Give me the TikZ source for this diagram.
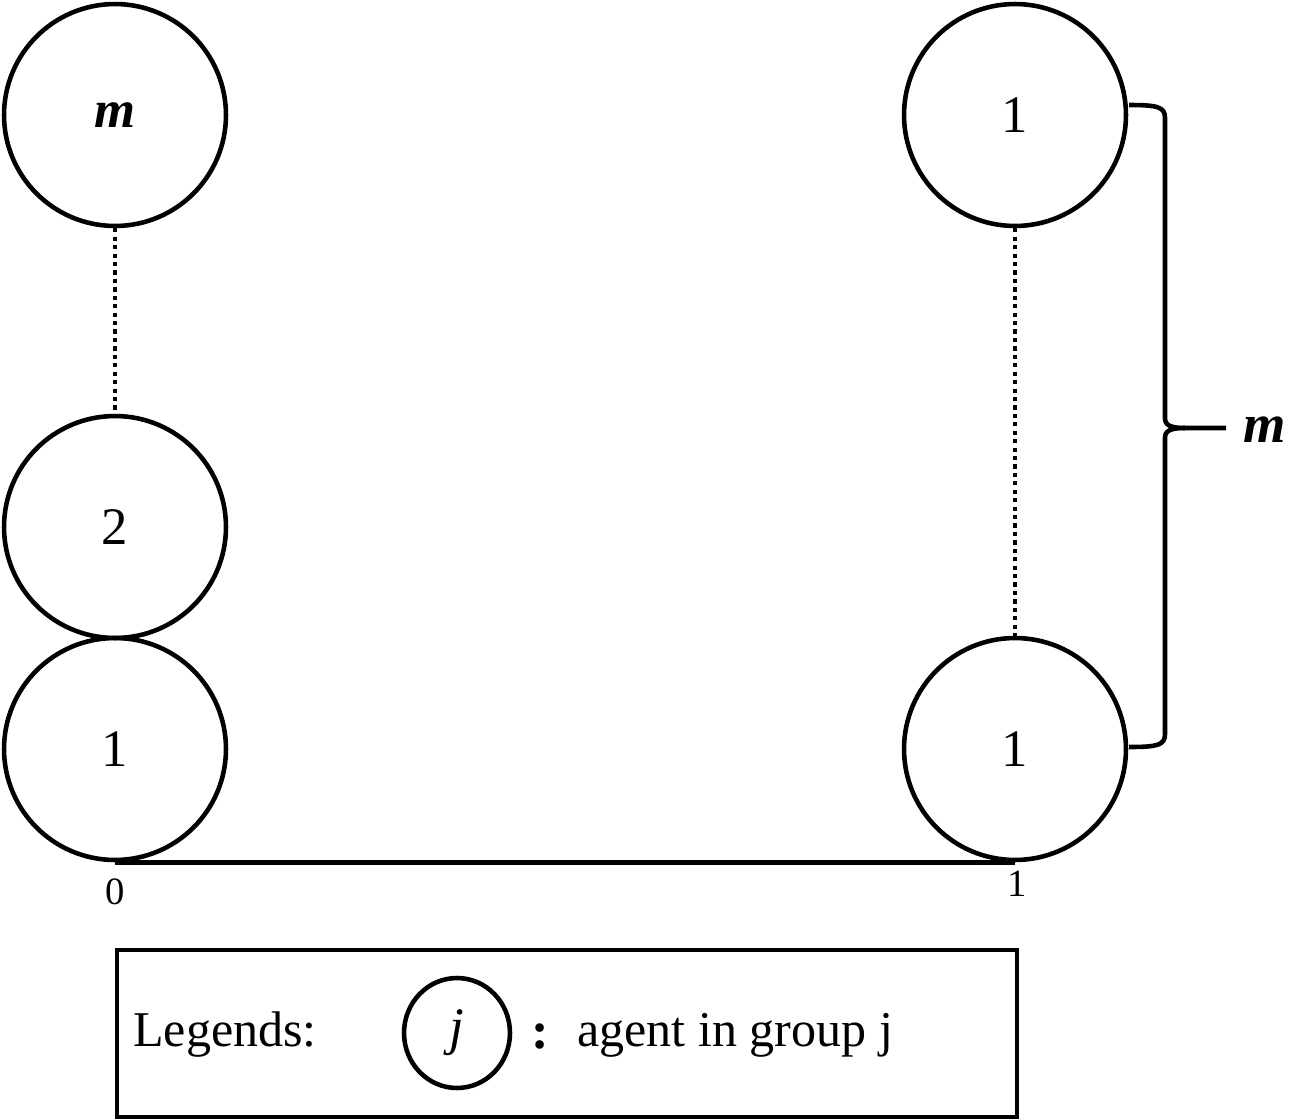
\documentclass[tikz,border=0pt]{standalone}
\usepackage{fontspec}
\setmainfont{Liberation Serif}
\usetikzlibrary{shapes.geometric}
\begin{document}
\begin{tikzpicture}[x=0.02cm,y=-0.02cm,
  agent/.style={draw,circle,line width=2.6pt,minimum size=4.44cm,inner sep=0pt,font=\fontsize{30}{36}\selectfont},
  thick line/.style={line width=2.6pt},
  dotline/.style={line width=2.6pt,dash pattern=on 2.4pt off 2.4pt},
  lbl/.style={font=\fontsize{22}{26}\selectfont,inner sep=0pt}]
\useasboundingbox (0,0) rectangle (1303,1120);
% left column
\node[agent] (lm) at (115,115) {\textbf{\textit{m}}};
\node[agent] (l2) at (115,527) {2};
\node[agent] (l1) at (115,749) {1};
% right column
\node[agent] (rt) at (1015,115) {1};
\node[agent] (rb) at (1015,749) {1};
% dotted links
\draw[dotline] (lm.south) -- (l2.north);
\draw[dotline] (rt.south) -- (rb.north);
% baseline
\draw[thick line] (l1.south) -- (rb.south);
\node[lbl] (z0) at (115,892) {0};
\node[lbl] (z1) at (1017,884) {1};
% brace
\coordinate (bt) at (1129,105);
\coordinate (bb) at (1129,747);
\coordinate (btip) at (1226,428);
\draw[thick line,line join=round]
  (bt) .. controls (1158,105) and (1165,107) .. (1165,118)
  -- (1165,418) .. controls (1165,425) and (1170,428) .. (1185,428) -- (btip);
\draw[thick line,line join=round]
  (bb) .. controls (1158,747) and (1165,745) .. (1165,734)
  -- (1165,438) .. controls (1165,431) and (1170,428) .. (1185,428);
\node[font=\fontsize{31}{36}\selectfont,anchor=west,inner sep=0pt] (mlab) at (1243,430) {\textbf{\textit{m}}};
% legend
\node[draw,line width=2.6pt,minimum width=18cm,minimum height=3.34cm,inner sep=0pt] (legend) at (567,1033.5) {};
\node[font=\fontsize{28.5}{32}\selectfont,anchor=west,inner sep=0pt] (legtxt) at (133,1035) {Legends:};
\node[draw,ellipse,line width=2.6pt,minimum width=2.12cm,minimum height=2.2cm,inner sep=0pt,font=\fontsize{30}{34}\selectfont] (lj) at (457,1033) {\textit{j}};
\node[font=\fontsize{30}{34}\selectfont\bfseries,inner sep=0pt] (colon) at (540,1037) {:};
\node[font=\fontsize{28.5}{32}\selectfont,anchor=west,inner sep=0pt] (ltext) at (577,1035) {agent in group j};
\end{tikzpicture}
\end{document}
